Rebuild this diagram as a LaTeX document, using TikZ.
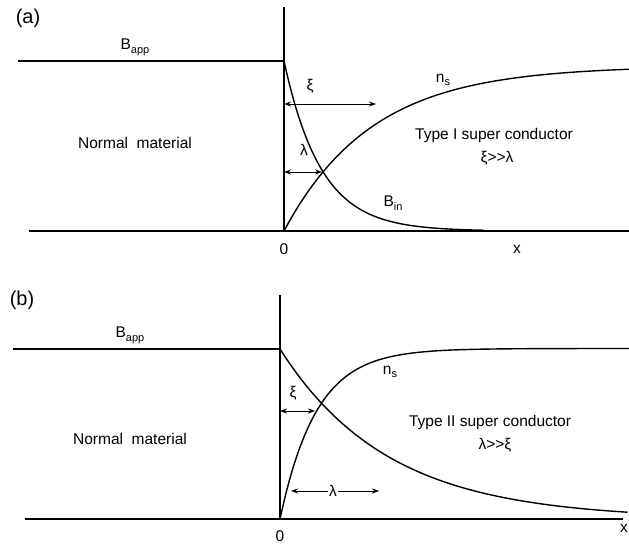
\documentclass[tikz,border=0pt]{standalone}
\usepackage{fontspec}
\setmainfont[Ligatures=NoCommon]{Liberation Sans}
\usetikzlibrary{arrows.meta}
\tikzset{
  curve/.style={line width=1.4pt, line join=round, line cap=round},
  axis/.style={line width=1.4pt},
  dim/.style={line width=0.9pt, {Stealth[length=7pt,width=5pt]}-{Stealth[length=7pt,width=5pt]}},
  onearrow/.style={line width=0.9pt, -{Stealth[length=7pt,width=5pt]}},
  lbl/.style={font=\fontsize{15.5}{17}\selectfont, inner sep=0pt},
  panel/.style={font=\fontsize{20}{22}\selectfont, inner sep=0pt},
}
\newcommand{\sbs}[1]{\raisebox{-0.45ex}{\fontsize{11}{12}\selectfont #1}}
\begin{document}
\begin{tikzpicture}[x=1pt,y=-1pt]
\useasboundingbox (0,0) rectangle (629,548);
% ---------------- panel (a)
\node[panel] (pa) at (28,18) {(a)};
\coordinate (a0) at (284,231);
\coordinate (atop) at (284,7);
\coordinate (aL) at (29,231);
\coordinate (aR) at (629,231);
\coordinate (appL) at (18,61);
\coordinate (appR) at (284,61);
\draw[axis] (aL) -- (aR);
\draw[axis] (a0) -- (atop);
\draw[axis] (appL) -- (appR);
\node[lbl] (bappa) at (135,47) {B\sbs{app}};
\node[lbl] (nma) at (135,143) {Normal\ \ material};
\node[lbl] (za) at (284,249) {0};
\node[lbl] (xa) at (517,249) {x};
% B_in
\draw[curve] plot[domain=0:200, samples=120, variable=\t] ({284+\t},{231-170*exp(-\t/37)});
% n_s
\draw[curve] plot[domain=0:345, samples=150, variable=\t] ({284+\t},{231-165*(1-exp(-\t/88))});
\node[lbl] (nsa) at (443,80) {n\sbs{s}};
\node[lbl] (bina) at (393,203) {B\sbs{in}};
\node[lbl] (xia) at (310,86) {ξ};
\coordinate (xiaL) at (284,104);
\coordinate (xiaR) at (376,104);
\draw[dim] (xiaL) -- (xiaR);
\node[lbl] (lama) at (304,150) {λ};
\coordinate (lamaL) at (284,172);
\coordinate (lamaR) at (322,172);
\draw[dim] (lamaL) -- (lamaR);
\node[lbl] (t1) at (494,135) {Type I super conductor};
\node[lbl] (t1r) at (497,158) {ξ>{}>λ};
% ---------------- panel (b)
\node[panel] (pb) at (22,300) {(b)};
\coordinate (b0) at (280,519);
\coordinate (btop) at (280,295);
\coordinate (bL) at (25,519);
\coordinate (bR) at (623,519);
\coordinate (bappL) at (13,349);
\coordinate (bappR) at (280,349);
\draw[axis] (bL) -- (bR);
\draw[axis] (b0) -- (btop);
\draw[axis] (bappL) -- (bappR);
\node[lbl] (bappb) at (130,335) {B\sbs{app}};
\node[lbl] (nmb) at (130,439) {Normal\ \ material};
\node[lbl] (zb) at (280,536) {0};
\node[lbl] (xb) at (624,528) {x};
% B_in
\draw[curve] plot[domain=0:347, samples=150, variable=\t] ({280+\t},{349+170*(1-exp(-\t/108))});
% n_s
\draw[curve] plot[domain=0:349, samples=150, variable=\t] ({280+\t},{519-170.5*(1-exp(-\t/36.5))});
\node[lbl] (nsb) at (390,372) {n\sbs{s}};
\node[lbl] (xib) at (293,393) {ξ};
\coordinate (xibL) at (280,411);
\coordinate (xibR) at (315,411);
\draw[dim] (xibL) -- (xibR);
\node[lbl, fill=white, inner sep=1pt] (lamb) at (333,491) {λ};
\coordinate (lambL) at (291,491);
\coordinate (lambR) at (379,491);
\draw[onearrow] (lamb.west) -- (lambL);
\draw[onearrow] (lamb.east) -- (lambR);
\node[lbl] (t2) at (490,422) {Type II super conductor};
\node[lbl] (t2r) at (495,445) {λ>{}>ξ};
\end{tikzpicture}
\end{document}
